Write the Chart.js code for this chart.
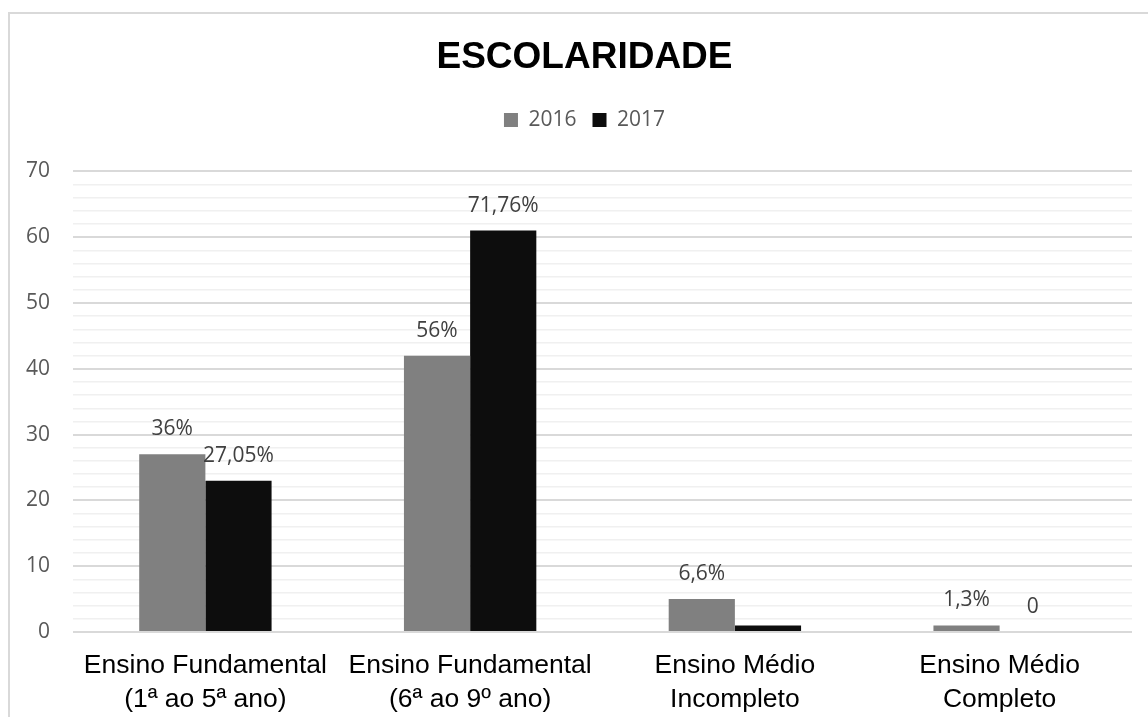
<!DOCTYPE html>
<html>
<head>
<meta charset="utf-8">
<script src="https://cdn.jsdelivr.net/npm/chart.js@4/dist/chart.umd.min.js"></script>
<style>
  html, body { margin: 0; padding: 0; background: #fff; }
  #frame { position: absolute; left: 8px; top: 12px; width: 1200px; height: 800px;
           border-left: 2px solid #d9d9d9; border-top: 2px solid #d9d9d9; }
  #wrap { position: absolute; left: 0; top: 0; width: 1148px; height: 717px; }
</style>
</head>
<body>
<div id="frame"></div>
<div id="wrap"><canvas id="chart" width="1148" height="717"></canvas></div>
<script>
const categories = [
    ['Ensino Fundamental', '(1ª ao 5ª ano)'],
    ['Ensino Fundamental', '(6ª ao 9º ano)'],
    ['Ensino Médio', 'Incompleto'],
    ['Ensino Médio', 'Completo']
];
const values2016 = [27, 42, 5, 1];
const values2017 = [23, 61, 1, 0];
const labels2016 = ['36%', '56%', '6,6%', '1,3%'];
const labels2017 = ['27,05%', '71,76%', '', '0'];

// draws the text labels above each bar
const barLabels = {
    id: 'barLabels',
    afterDatasetsDraw(chart) {
        const ctx = chart.ctx;
        ctx.save();
        ctx.font = '21px "Open Sans"';
        ctx.fillStyle = '#404040';
        ctx.textAlign = 'center';
        ctx.textBaseline = 'middle';
        chart.data.datasets.forEach(function (ds, i) {
            const meta = chart.getDatasetMeta(i);
            meta.data.forEach(function (bar, j) {
                const txt = ds.valueLabels[j];
                if (txt) ctx.fillText(txt, bar.x, bar.y - 25);
            });
        });
        ctx.restore();
    }
};

// extra space under the legend, and title + legend nudged right
const headerTweak = {
    id: 'headerTweak',
    afterInit(chart) {
        const fit = chart.legend.fit;
        chart.legend.fit = function () {
            fit.call(this);
            this.height += 31;
        };
        [chart.legend, chart.titleBlock].forEach(function (box) {
            if (!box) return;
            const draw = box.draw;
            box.draw = function () {
                const ctx = this.ctx;
                ctx.save();
                ctx.translate(17, 0);
                draw.apply(this, arguments);
                ctx.restore();
            };
        });
    }
};

new Chart(document.getElementById('chart'), {
    type: 'bar',
    data: {
        labels: categories,
        datasets: [{
            label: '2016',
            data: values2016,
            valueLabels: labels2016,
            backgroundColor: '#808080',
            categoryPercentage: 0.5,
            barPercentage: 1.0
        }, {
            label: '2017',
            data: values2017,
            valueLabels: labels2017,
            backgroundColor: '#0d0d0d',
            categoryPercentage: 0.5,
            barPercentage: 1.0
        }]
    },
    options: {
        responsive: false,
        animation: false,
        layout: { padding: { left: 3, right: 16, top: 0, bottom: 0 } },
        plugins: {
            title: {
                display: true,
                text: 'ESCOLARIDADE',
                color: '#000',
                font: { family: '"Liberation Sans", Arial', size: 37, weight: 'bold' },
                padding: { top: 36, bottom: 13 }
            },
            legend: {
                position: 'top',
                labels: {
                    color: '#595959',
                    font: { family: '"Open Sans"', size: 21 },
                    boxWidth: 14,
                    boxHeight: 14,
                    padding: 16
                }
            },
            tooltip: { enabled: false }
        },
        scales: {
            x: {
                grid: { display: false, drawTicks: false },
                border: { display: false },
                afterFit: function (scale) { scale.height = 85; },
                ticks: {
                    color: '#000',
                    font: { family: '"Liberation Sans", Arial', size: 26.5, lineHeight: 1.27 },
                    padding: 17,
                    maxRotation: 0,
                    autoSkip: false
                }
            },
            y: {
                min: 0,
                max: 70,
                border: { display: false },
                grid: {
                    drawTicks: false,
                    lineWidth: function (c) { return c.tick && c.tick.value % 10 === 0 ? 2 : 1.5; },
                    color: function (c) { return c.tick && c.tick.value % 10 === 0 ? '#d9d9d9' : '#f0f0f0'; }
                },
                ticks: {
                    stepSize: 2,
                    autoSkip: false,
                    padding: 23,
                    color: '#595959',
                    font: { family: '"Open Sans"', size: 21 },
                    callback: function (v) { return v % 10 === 0 ? v : ''; }
                }
            }
        }
    },
    plugins: [barLabels, headerTweak]
});
</script>
</body>
</html>
